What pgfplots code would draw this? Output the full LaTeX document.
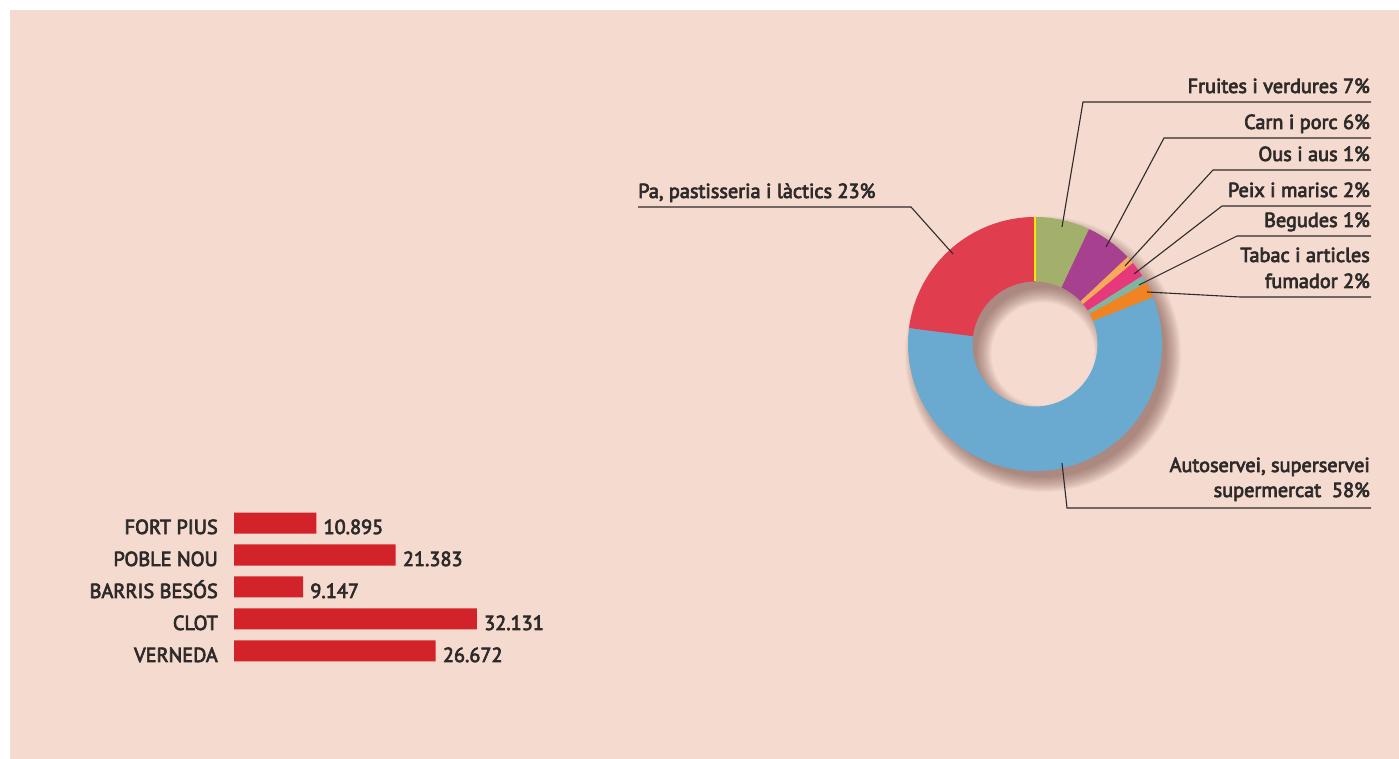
\documentclass[border=0pt]{standalone}
\usepackage{pgfplots}
\pgfplotsset{compat=1.18}
\usepackage{fontspec}
\setmainfont{PT Sans}
\newfontfamily\lab{PT Sans}[FakeBold=3.5]
\definecolor{bg}{HTML}{F5DBCF}
\definecolor{barred}{HTML}{D2222A}
\definecolor{txt}{HTML}{2E2A2A}
\definecolor{cgreen}{HTML}{A3B06C}
\definecolor{cpurple}{HTML}{A6408F}
\definecolor{clorange}{HTML}{F8AA5B}
\definecolor{cpink}{HTML}{E8387C}
\definecolor{cteal}{HTML}{82B5A1}
\definecolor{corange}{HTML}{F08423}
\definecolor{cblue}{HTML}{6AA9D0}
\definecolor{cred}{HTML}{E03E4E}
\definecolor{cyellow}{HTML}{FFE500}
\definecolor{shadowc}{HTML}{70463F}
\newcommand{\lf}{\lab\fontsize{20.3}{26}\selectfont}
% donut slice: #1 cumulative start (%), #2 share (%), #3 colour
\newcommand{\slice}[3]{%
  \fill[#3, shift={(axis cs:0,0)}] ({90-3.6*#1}:127pt)
    arc[start angle={90-3.6*#1}, delta angle={-3.6*#2}, radius=127pt]
    -- ({90-3.6*(#1+#2)}:62.5pt)
    arc[start angle={90-3.6*(#1+#2)}, delta angle={3.6*#2}, radius=62.5pt]
    -- cycle;}
\newcommand{\shadowring}[1]{%
  \fill[shadowc, opacity=0.045, even odd rule, shift={(axis cs:8,-10)}]
    (0pt,0pt) circle[radius={(127+(#1))*1pt}] (0pt,0pt) circle[radius={(62.5-(#1))*1pt}];}
\begin{document}
\begin{tikzpicture}
\fill[white] (0pt,0pt) rectangle (1399pt,759pt);
\fill[bg] (10pt,0pt) rectangle (1399pt,749pt);

% ---- bar chart ----
\begin{axis}[
  at={(234pt,92pt)}, anchor=south west, scale only axis,
  width=302.5pt, height=160pt,
  xbar, bar width=21pt,
  xmin=0, xmax=40000, ymin=-0.5, ymax=4.5, y dir=reverse,
  enlargelimits=false,
  axis line style={draw=none}, tick style={draw=none}, major tick length=0pt,
  xtick=\empty,
  ytick={0,1,2,3,4},
  yticklabels={FORT PIUS, POBLE NOU, BARRIS BESÓS, CLOT, VERNEDA},
  yticklabel style={anchor=base east, inner sep=0pt, xshift=-16pt, yshift=-11pt, font=\lf, text=txt},
  nodes near coords,
  every node near coord/.append style={anchor=base west, inner sep=0pt, xshift=7pt, yshift=-11pt, font=\lf, text=txt},
  /pgf/number format/fixed, /pgf/number format/precision=0,
  /pgf/number format/1000 sep={.}, /pgf/number format/assume math mode=true,
  clip=false,
]
\addplot[fill=barred, draw=none] coordinates {(10895,0) (21383,1) (9147,2) (32131,3) (26672,4)};
\end{axis}

% ---- donut chart ----
\begin{axis}[
  at={(1035pt,415pt)}, anchor=center, x=1pt, y=1pt,
  xmin=-160, xmax=160, ymin=-160, ymax=160,
  hide axis, clip=false,
]
\addplot[draw=none] coordinates {(0,0)};
\pgfplotsinvokeforeach{-4,-3,...,11}{\shadowring{#1}}
\slice{0}{7}{cgreen}
\slice{7}{6}{cpurple}
\slice{13}{1}{clorange}
\slice{14}{2}{cpink}
\slice{16}{1}{cteal}
\slice{17}{2}{corange}
\slice{19}{58}{cblue}
\slice{77}{23}{cred}
\draw[cyellow, line width=2.5pt] (axis cs:0,62.5) -- (axis cs:0,127);
\end{axis}

% ---- leader lines ----
\begin{scope}[draw=txt, line width=1.1pt]
\draw (1371pt,657pt) -- (1083pt,657pt) -- (1062pt,532pt);
\draw (1371pt,621pt) -- (1164pt,621pt) -- (1106pt,512pt);
\draw (1371pt,589pt) -- (1213pt,589pt) -- (1125pt,493pt);
\draw (1371pt,553pt) -- (1222pt,553pt) -- (1134pt,485pt);
\draw (1371pt,523pt) -- (1237pt,523pt) -- (1139pt,474pt);
\draw (1371pt,462pt) -- (1240pt,462pt) -- (1147pt,467pt);
\draw (638pt,552pt) -- (911pt,552pt) -- (953pt,505pt);
\draw (1371pt,251pt) -- (1067pt,251pt) -- (1062pt,296pt);
\end{scope}

% ---- labels ----
\begin{scope}[every node/.style={inner sep=0pt, text=txt, font=\lf}]
\node[anchor=base east] at (1370pt,666pt) {Fruites i verdures 7\%};
\node[anchor=base east] at (1370pt,630pt) {Carn i porc 6\%};
\node[anchor=base east] at (1370pt,598pt) {Ous i aus 1\%};
\node[anchor=base east] at (1370pt,562pt) {Peix i marisc 2\%};
\node[anchor=base east] at (1370pt,532pt) {Begudes 1\%};
\node[anchor=base east] at (1370pt,497pt) {Tabac i articles};
\node[anchor=base east] at (1370pt,471pt) {fumador 2\%};
\node[anchor=base west] at (638pt,561pt) {Pa, pastisseria i làctics 23\%};
\node[anchor=base east] at (1370pt,287pt) {Autoservei, superservei};
\node[anchor=base east] at (1370pt,262pt) {supermercat~~58\%};
\end{scope}
\end{tikzpicture}
\end{document}
